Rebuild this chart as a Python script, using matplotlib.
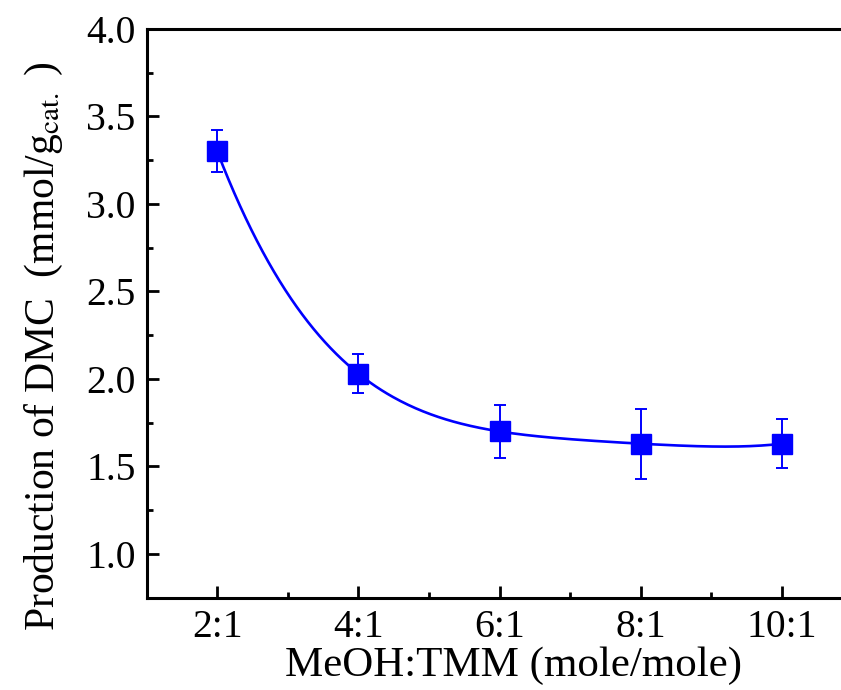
import numpy as np
import matplotlib.pyplot as plt
from matplotlib.ticker import MultipleLocator, AutoMinorLocator

# ---------------- data ---------------- #
ratios = ['2:1', '4:1', '6:1', '8:1', '10:1']
dmc = [3.30, 2.03, 1.70, 1.63, 1.63]
err_up = [0.12, 0.11, 0.15, 0.20, 0.14]
err_dn = [0.12, 0.11, 0.15, 0.20, 0.14]

plt.rcParams['font.family'] = ['Liberation Serif']
plt.rcParams['mathtext.fontset'] = 'stix'

xpos = np.arange(1, len(ratios) + 1)

# smooth curve through the points (4th order poly, passes through all 5)
coef = np.polyfit(xpos, dmc, len(xpos) - 1)
xs = np.linspace(xpos[0], xpos[-1], 300)
ys = np.polyval(coef, xs)

fig = plt.figure(figsize=(8.41, 6.90), dpi=100)
ax = fig.add_axes([0.1744, 0.1338, 0.8394, 0.8242])

ax.plot(xs, ys, color='#0000ff', lw=1.9, zorder=2)
ax.errorbar(xpos, dmc, yerr=[err_dn, err_up], fmt='s', color='#0000ff',
			ms=14.5, elinewidth=1.4, capsize=4, capthick=1.4, zorder=3)

ax.set_xlim(0.5, 5.5)
ax.set_ylim(0.75, 4.0)
ax.set_xticks(xpos)
ax.set_xticklabels(ratios)
ax.xaxis.set_minor_locator(MultipleLocator(0.5))
ax.yaxis.set_major_locator(MultipleLocator(0.5))
ax.yaxis.set_minor_locator(AutoMinorLocator(2))

ax.spines['right'].set_visible(False)
for s in ['left', 'bottom', 'top']:
	ax.spines[s].set_linewidth(2.2)

ax.tick_params(which='both', direction='in', top=False, right=False, width=2.0, labelsize=28.5)
ax.tick_params(which='major', length=8.5, pad=8)
ax.tick_params(which='minor', length=4.5)

ax.set_xlabel('MeOH:TMM (mole/mole)', fontsize=31)
ax.set_ylabel('Production of DMC  (mmol/g$_{\\mathrm{cat.}}$ )', fontsize=30)
ax.xaxis.set_label_coords(0.519, -0.085)
ax.yaxis.set_label_coords(-0.115, 0.443)

fig.savefig('out.png', dpi=100)
